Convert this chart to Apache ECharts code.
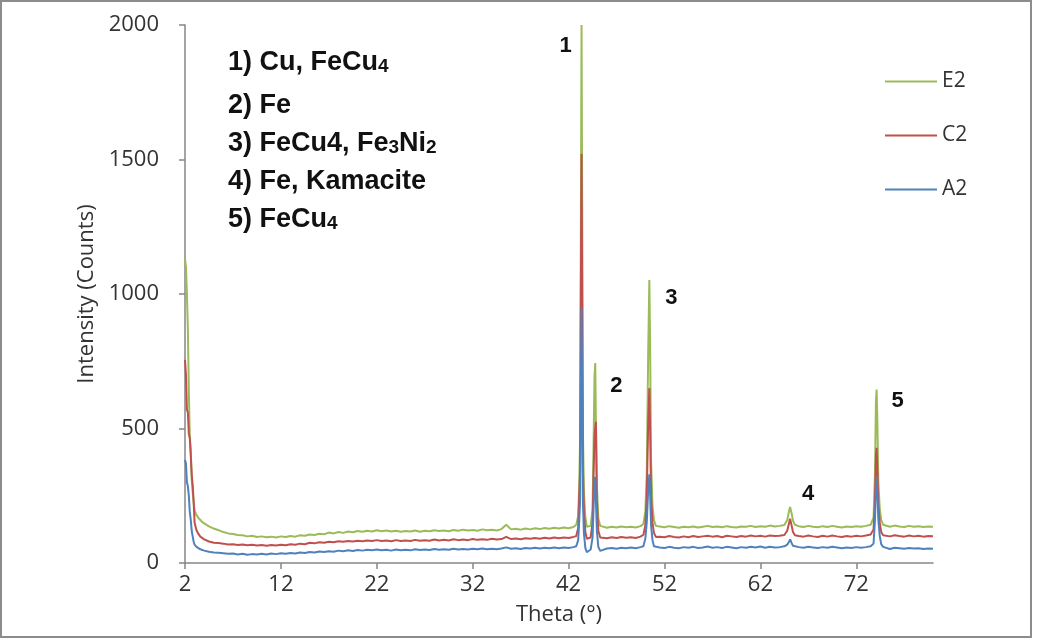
<!DOCTYPE html>
<html>
<head>
<meta charset="utf-8">
<script src="https://cdn.jsdelivr.net/npm/echarts@6/dist/echarts.min.js"></script>
<style>
  html, body { margin: 0; padding: 0; background: #fff; }
  #chart { width: 1037px; height: 641px; }
</style>
</head>
<body>
<div id="chart"></div>
<script>
// Diffraction angle (degrees), shared by all three patterns
const theta = [
  2.0, 2.1, 2.2, 2.3, 2.4, 2.5, 2.6, 2.7, 2.8, 2.9, 3.0, 3.2, 3.4, 3.6, 3.8, 4.0, 4.5, 5.0,
  5.5, 6, 6.5, 7, 7.5, 8, 8.5, 9, 9.5, 10,
  10.5, 11, 11.5, 12, 12.5, 13, 13.5, 14, 14.5, 15,
  15.5, 16, 16.5, 17, 17.5, 18, 18.5, 19, 19.5, 20,
  20.5, 21, 21.5, 22, 22.5, 23, 23.5, 24, 24.5, 25,
  25.5, 26, 26.5, 27, 27.5, 28, 28.5, 29, 29.5, 30,
  30.5, 31, 31.5, 32, 32.5, 33, 33.5, 34, 34.5, 35,
  35.5, 36, 36.5, 37, 37.5, 38, 38.5, 39, 39.5, 40,
  40.5, 41, 41.5, 42, 42.5,
  42.8, 43.0, 43.1, 43.2, 43.28, 43.35, 43.42, 43.5, 43.6, 43.75, 43.9, 44.1, 44.3, 44.5, 44.6, 44.7, 44.78, 44.85, 44.95, 45.1, 45.3,
  45.5, 46, 46.5, 47, 47.5, 48, 48.5, 49, 49.5,
  49.8, 50.0, 50.15, 50.3, 50.42, 50.5, 50.6, 50.75, 50.9, 51.1,
  51.5, 52, 52.5, 53, 53.5, 54, 54.5, 55, 55.5, 56, 56.5, 57, 57.5, 58, 58.5, 59, 59.5, 60, 60.5, 61, 61.5, 62, 62.5, 63, 63.5, 64, 64.5,
  64.8, 65.0, 65.1, 65.25, 65.4, 65.6,
  66, 66.5, 67, 67.5, 68, 68.5, 69, 69.5, 70, 70.5, 71, 71.5, 72, 72.5, 73, 73.5,
  73.8, 73.95, 74.05, 74.12, 74.2, 74.3, 74.45, 74.6, 74.8,
  75, 75.5, 76, 76.5, 77, 77.5, 78, 78.5, 79, 79.5, 80
];

// Intensity (counts) of sample E2
const e2 = [
  1130, 1100, 1000, 870, 640, 470, 420, 310, 265, 225, 195, 178, 168, 160, 152, 148, 136, 128,
  122, 115, 110, 108, 104, 103, 99, 101, 97, 99,
  96, 98, 95, 99, 97, 100, 98, 103, 101, 106,
  104, 109, 107, 113, 110, 115, 112, 117, 114, 119,
  116, 120, 117, 122, 118, 121, 117, 120, 116, 119,
  117, 121, 116, 120, 118, 122, 119, 121, 118, 123,
  120, 124, 121, 123, 120, 125, 122, 124, 121, 126,
  142, 125, 127, 124, 128, 125, 129, 126, 130, 127,
  131, 128, 132, 129, 134,
  142, 175, 280, 460, 1250, 2000, 1300, 480, 260, 170, 135, 128, 138, 200, 430, 690, 743, 520, 290, 165, 138,
  134, 131, 135, 132, 136, 133, 135, 132, 137,
  145, 190, 330, 780, 1052, 820, 380, 210, 160, 138,
  136, 133, 137, 134, 131, 135, 133, 136, 132, 135, 138, 134, 136, 133, 137, 134, 132, 136, 135, 138, 134, 137, 135, 139, 136, 138, 141,
  160, 195, 208, 185, 158, 142,
  137, 134, 138, 135, 133, 137, 134, 138, 135, 132, 136, 134, 137, 135, 138, 142,
  170, 330, 600, 645, 520, 300, 200, 160, 142,
  138, 135, 139, 136, 134, 138, 135, 137, 134, 136, 135
];

// Intensity (counts) of sample C2
const c2 = [
  755, 700, 570, 560, 480, 465, 400, 330, 290, 230, 150, 122, 108, 98, 92, 88, 80, 75,
  74, 72, 69, 70, 67, 69, 66, 68, 65, 67,
  64, 67, 65, 68, 66, 70, 68, 72, 70, 75,
  73, 77, 75, 79, 77, 81, 79, 82, 80, 83,
  81, 84, 82, 85, 82, 84, 81, 85, 82, 84,
  82, 86, 83, 85, 83, 87, 84, 86, 84, 88,
  85, 87, 85, 89, 86, 88, 86, 90, 87, 89,
  97, 89, 91, 88, 92, 90, 93, 90, 94, 91,
  95, 92, 95, 93, 97,
  100, 130, 240, 340, 1000, 1520, 960, 345, 190, 115, 90, 86, 95, 150, 320, 470, 505, 525, 230, 120, 95,
  94, 92, 96, 93, 97, 94, 96, 93, 98,
  105, 140, 240, 520, 650, 500, 250, 150, 112, 97,
  98, 96, 100, 97, 95, 99, 96, 100, 97, 99, 101, 98, 100, 96, 101, 99, 97, 100, 98, 102, 99, 101, 98, 102, 100, 101, 104,
  120, 150, 165, 140, 115, 103,
  100, 98, 102, 99, 97, 101, 98, 102, 99, 97, 100, 98, 101, 99, 102, 106,
  125, 230, 400, 428, 350, 220, 150, 115, 103,
  101, 99, 103, 100, 98, 102, 99, 101, 98, 100, 99
];

// Intensity (counts) of sample A2
const a2 = [
  383, 370, 300, 285, 250, 190, 160, 120, 99, 80, 68, 60, 55, 51, 48, 46, 42, 39,
  38, 36, 34, 35, 32, 34, 31, 33, 32, 34,
  32, 35, 33, 36, 34, 37, 35, 39, 37, 41,
  39, 43, 41, 44, 42, 46, 44, 47, 45, 48,
  46, 49, 47, 50, 47, 49, 46, 50, 47, 49,
  47, 51, 48, 50, 48, 52, 49, 51, 49, 53,
  50, 52, 50, 53, 51, 54, 51, 53, 51, 54,
  58, 53, 55, 52, 56, 54, 57, 54, 57, 55,
  58, 55, 58, 56, 59,
  62, 85, 150, 230, 650, 950, 620, 220, 110, 55, 40, 38, 50, 95, 200, 310, 320, 230, 120, 60, 45,
  52, 54, 56, 53, 57, 55, 58, 55, 59,
  62, 90, 150, 270, 330, 260, 140, 85, 62, 55,
  58, 56, 60, 57, 55, 59, 57, 60, 56, 58, 61, 57, 59, 56, 60, 58, 55, 59, 57, 60, 58, 61, 57, 60, 58, 59, 62,
  68, 80, 88, 75, 64, 60,
  59, 57, 60, 58, 56, 59, 57, 60, 58, 55, 58, 56, 59, 57, 59, 62,
  72, 160, 290, 316, 260, 160, 100, 70, 60,
  56, 52, 57, 55, 53, 56, 54, 55, 52, 54, 53
];

const seriesNames = ['E2', 'C2', 'A2'];
const xTicks = [2, 12, 22, 32, 42, 52, 62, 72];
const yTicks = [0, 500, 1000, 1500, 2000];

// Numbered reflections, placed at the E2 maxima
const peakNames = ['1', '2', '3', '4', '5'];
const peakTheta = [43.35, 44.78, 50.42, 65.1, 74.12];

// Phase key: [text, isSubscript] fragments per line
const phaseLines = [
  [['1) Cu, FeCu', 0], ['4', 1]],
  [['2) Fe', 0]],
  [['3) FeCu4, Fe', 0], ['3', 1], ['Ni', 0], ['2', 1]],
  [['4) Fe, Kamacite', 0]],
  [['5) FeCu', 0], ['4', 1]]
];

const colors = { E2: '#9BBB59', C2: '#C0504D', A2: '#4F81BD' };
const values = { E2: e2, C2: c2, A2: a2 };

const FONT = '"Open Sans", sans-serif';
const BOLD = '"Liberation Sans", Arial, sans-serif';
const axisGray = '#868686';
const textGray = '#333';

const peakOffsets = [[-16, 21], [21, 23], [22, 18], [18, -13], [21, 11]];
const markData = peakNames.map((n, k) => {
  const i = theta.indexOf(peakTheta[k]);
  return {
    name: n,
    coord: [theta[i], e2[i]],
    label: { offset: peakOffsets[k] }
  };
});

const series = seriesNames.map(name => {
  const s = {
    name,
    type: 'line',
    symbol: 'none',
    smooth: false,
    clip: true,
    data: theta.map((t, i) => [t, values[name][i]]),
    lineStyle: { color: colors[name], width: 2 },
    itemStyle: { color: colors[name] },
    emphasis: { disabled: true },
    animation: false
  };
  if (name === 'E2') {
    s.markPoint = {
      symbol: 'circle',
      symbolSize: 0,
      silent: true,
      animation: false,
      label: {
        show: true,
        position: 'inside',
        formatter: p => p.name,
        color: '#111',
        fontFamily: BOLD,
        fontWeight: 'bold',
        fontSize: 22
      },
      data: markData
    };
  }
  return s;
});

// vertical centres of the phase-key lines
const lineCentres = [63, 106, 144, 182, 220];
const graphics = phaseLines.map((parts, k) => ({
  type: 'text',
  left: 228,
  top: lineCentres[k] - 14,
  silent: true,
  style: {
    text: parts.map(([t, sub]) => (sub ? '{s|' : '{b|') + t + '}').join(''),
    rich: {
      b: { fontFamily: BOLD, fontWeight: 'bold', fontSize: 27, fill: '#111', verticalAlign: 'bottom', lineHeight: 31 },
      s: { fontFamily: BOLD, fontWeight: 'bold', fontSize: 19, fill: '#111', verticalAlign: 'bottom', lineHeight: 29 }
    }
  }
}));
// chart-area frame
graphics.push({
  type: 'rect',
  silent: true,
  shape: { x: 1, y: 1, width: 1030, height: 636 },
  style: { fill: 'none', stroke: '#8c8c8c', lineWidth: 2 }
});

const chart = echarts.init(document.getElementById('chart'), null, { renderer: 'canvas' });
chart.setOption({
  animation: false,
  backgroundColor: '#fff',
  grid: { left: 185, right: 104, top: 25, bottom: 78, containLabel: false },
  legend: {
    orient: 'vertical',
    left: 885,
    top: 71,
    padding: 0,
    itemWidth: 52,
    itemHeight: 20,
    itemGap: 33,
    icon: 'path://M0,9 L52,9 L52,11 L0,11 Z',
    data: seriesNames,
    selectedMode: false,
    textStyle: { fontFamily: FONT, fontSize: 21, color: textGray }
  },
  xAxis: {
    type: 'value',
    min: 2,
    max: 80,
    name: 'Theta (°)',
    nameLocation: 'middle',
    nameGap: 41,
    nameTextStyle: { fontFamily: FONT, fontSize: 22, color: textGray },
    axisLine: { show: true, lineStyle: { color: axisGray, width: 1.5 } },
    axisTick: { show: true, length: 6, lineStyle: { color: axisGray, width: 1.5 }, customValues: xTicks },
    axisLabel: { fontFamily: FONT, fontSize: 22, color: textGray, margin: 11, customValues: xTicks },
    splitLine: { show: false }
  },
  yAxis: {
    type: 'value',
    min: yTicks[0],
    max: yTicks[yTicks.length - 1],
    interval: 500,
    name: 'Intensity (Counts)',
    nameLocation: 'middle',
    nameGap: 86,
    nameTextStyle: { fontFamily: FONT, fontSize: 22, color: textGray },
    axisLine: { show: true, lineStyle: { color: axisGray, width: 1.5 } },
    axisTick: { show: true, length: 6, lineStyle: { color: axisGray, width: 1.5 } },
    axisLabel: { fontFamily: FONT, fontSize: 22, color: textGray, margin: 26, formatter: v => String(v) },
    splitLine: { show: false }
  },
  graphic: graphics,
  series
});
</script>
</body>
</html>
